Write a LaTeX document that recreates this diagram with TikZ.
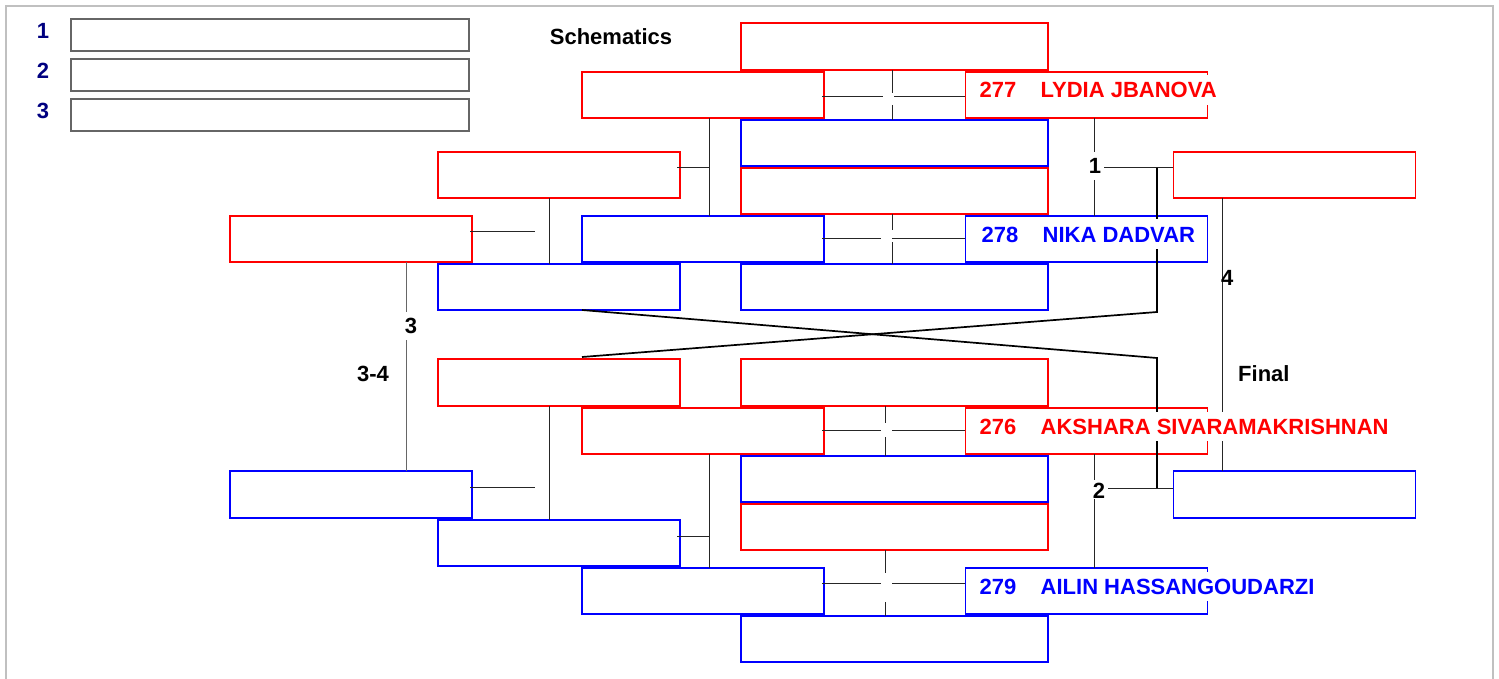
\documentclass[tikz,border=0pt]{standalone}
\usepackage{fontspec}
\setmainfont{Liberation Sans}
\definecolor{bred}{HTML}{FF0000}
\definecolor{bblue}{HTML}{0000FF}
\definecolor{lgray}{HTML}{666666}
\definecolor{navyc}{HTML}{000080}
\definecolor{framegray}{HTML}{C0C0C0}
\begin{document}
\begin{tikzpicture}[x=1pt,y=-1pt,
  bx/.style={draw, line width=1.7pt, inner sep=0pt, minimum height=46.5pt},
  rbox/.style={bx, draw=bred},
  bbox/.style={bx, draw=bblue},
  cw/.style={minimum width=307pt},
  sw/.style={minimum width=242pt},
  lbox/.style={draw=lgray, line width=1.6pt, minimum width=398pt, minimum height=32pt, inner sep=0pt},
  conn/.style={line width=1pt, black!85},
  heavy/.style={line width=1.7pt, black},
  lab/.style={font=\fontsize{22}{25}\selectfont\bfseries, inner sep=0pt, anchor=base},
  pname/.style={font=\fontsize{22}{25}\selectfont\bfseries, anchor=base west, fill=white, inner xsep=0.5pt, inner ysep=7pt, text height=15.5pt, text depth=0pt},
]
\useasboundingbox (0,0) rectangle (1499,679);
\clip (0,0) rectangle (1499,679);
% frame
\draw[framegray, line width=2pt] (6,700) |- (1493,6.5) -- (1493,700);
% legend
\node[lbox] (l1) at (270,35) {};
\node[lbox] (l2) at (270,75) {};
\node[lbox] (l3) at (270,115) {};
\node[lab, text=navyc] at (43,38.5) {1};
\node[lab, text=navyc] at (43,78.5) {2};
\node[lab, text=navyc] at (43,118.5) {3};
% center column
\node[rbox,cw] (c1) at (894.5,46.5) {};
\node[bbox,cw] (c2) at (894.5,143) {};
\node[rbox,cw] (c3) at (894.5,191) {};
\node[bbox,cw] (c4) at (894.5,287) {};
\node[rbox,cw] (c5) at (894.5,382.5) {};
\node[bbox,cw] (c6) at (894.5,479) {};
\node[rbox,cw] (c7) at (894.5,527) {};
\node[bbox,cw] (c8) at (894.5,639) {};
% column a
\node[rbox,sw] (a1) at (703,95) {};
\node[bbox,sw] (a2) at (703,239) {};
\node[rbox,sw] (a3) at (703,431) {};
\node[bbox,sw] (a4) at (703,591) {};
% column n (names)
\node[rbox,sw] (n1) at (1086.5,95) {};
\node[bbox,sw] (n2) at (1086.5,239) {};
\node[rbox,sw] (n3) at (1086.5,431) {};
\node[bbox,sw] (n4) at (1086.5,591) {};
% column q
\node[rbox,sw] (q1) at (559,175) {};
\node[bbox,sw] (q2) at (559,287) {};
\node[rbox,sw] (q3) at (559,382.5) {};
\node[bbox,sw] (q4) at (559,543) {};
% column s
\node[rbox,sw] (s1) at (351,239) {};
\node[bbox,sw] (s2) at (351,494.5) {};
% final column
\node[rbox,sw] (f1) at (1294.5,175) {};
\node[bbox,sw] (f2) at (1294.5,494.5) {};
% crossings
\draw[conn] (822,97) -- (883,97) (894,97) -- (n1.west |- 0,97);
\draw[conn] (892,70) -- (892,93) (892,105) -- (892,120);
\draw[conn] (822,238) -- (881,238) (892,238) -- (n2.west |- 0,238);
\draw[conn] (892,214) -- (892,230) (892,242) -- (892,264);
\draw[conn] (822,430) -- (881,430) (892,430) -- (n3.west |- 0,430);
\draw[conn] (885,406) -- (885,423) (885,437) -- (885,456);
\draw[conn] (822,583) -- (881,583) (892,583) -- (n4.west |- 0,583);
\draw[conn] (885,550) -- (885,573) (885,602) -- (885,616);
% left brackets
\draw[conn] (709,118) -- (709,216) (677,168) -- (709,168);
\draw[conn] (709,454) -- (709,568) (677,536) -- (709,536);
\draw[conn] (549,198) -- (549,264) (470,232) -- (535,232);
\draw[conn] (549,406) -- (549,520) (470,487) -- (535,487);
\draw[conn, black!60] (406,262) -- (406,312) (406,340) -- (406,471);
% right brackets
\draw[conn] (1094,118) -- (1094,152) (1094,180) -- (1094,216) (1104,168) -- (f1.west |- 0,168);
\draw[conn] (1094,454) -- (1094,480) (1094,499) -- (1094,568) (1108,488) -- (f2.west |- 0,488);
\draw[conn] (1222,198) -- (1222,471);
\draw[heavy] (1157,168) -- (1157,312) -- (582,357);
\draw[heavy] (582,310) -- (1157,358) -- (1157,488);
% labels
\node[lab] at (611,45) {Schematics};
\node[lab] at (1095,173.5) {1};
\node[lab] at (1099,498) {2};
\node[lab] at (411,333) {3};
\node[lab] at (373,381) {3-4};
\node[lab,anchor=base west] at (1221,285) {4};
\node[lab,anchor=base west] at (1238,381) {Final};
% names
\node[pname,text=bred] at (979,98) {277};
\node[pname,text=bred] at (1040,98) {LYDIA JBANOVA};
\node[pname,text=bblue] at (981,242) {278};
\node[pname,text=bblue] at (1042,242) {NIKA DADVAR};
\node[pname,text=bred] at (979,434) {276};
\node[pname,text=bred] at (1040,434) {AKSHARA SIVARAMAKRISHNAN};
\node[pname,text=bblue] at (979,594) {279};
\node[pname,text=bblue] at (1040,594) {AILIN HASSANGOUDARZI};
\end{tikzpicture}
\end{document}
